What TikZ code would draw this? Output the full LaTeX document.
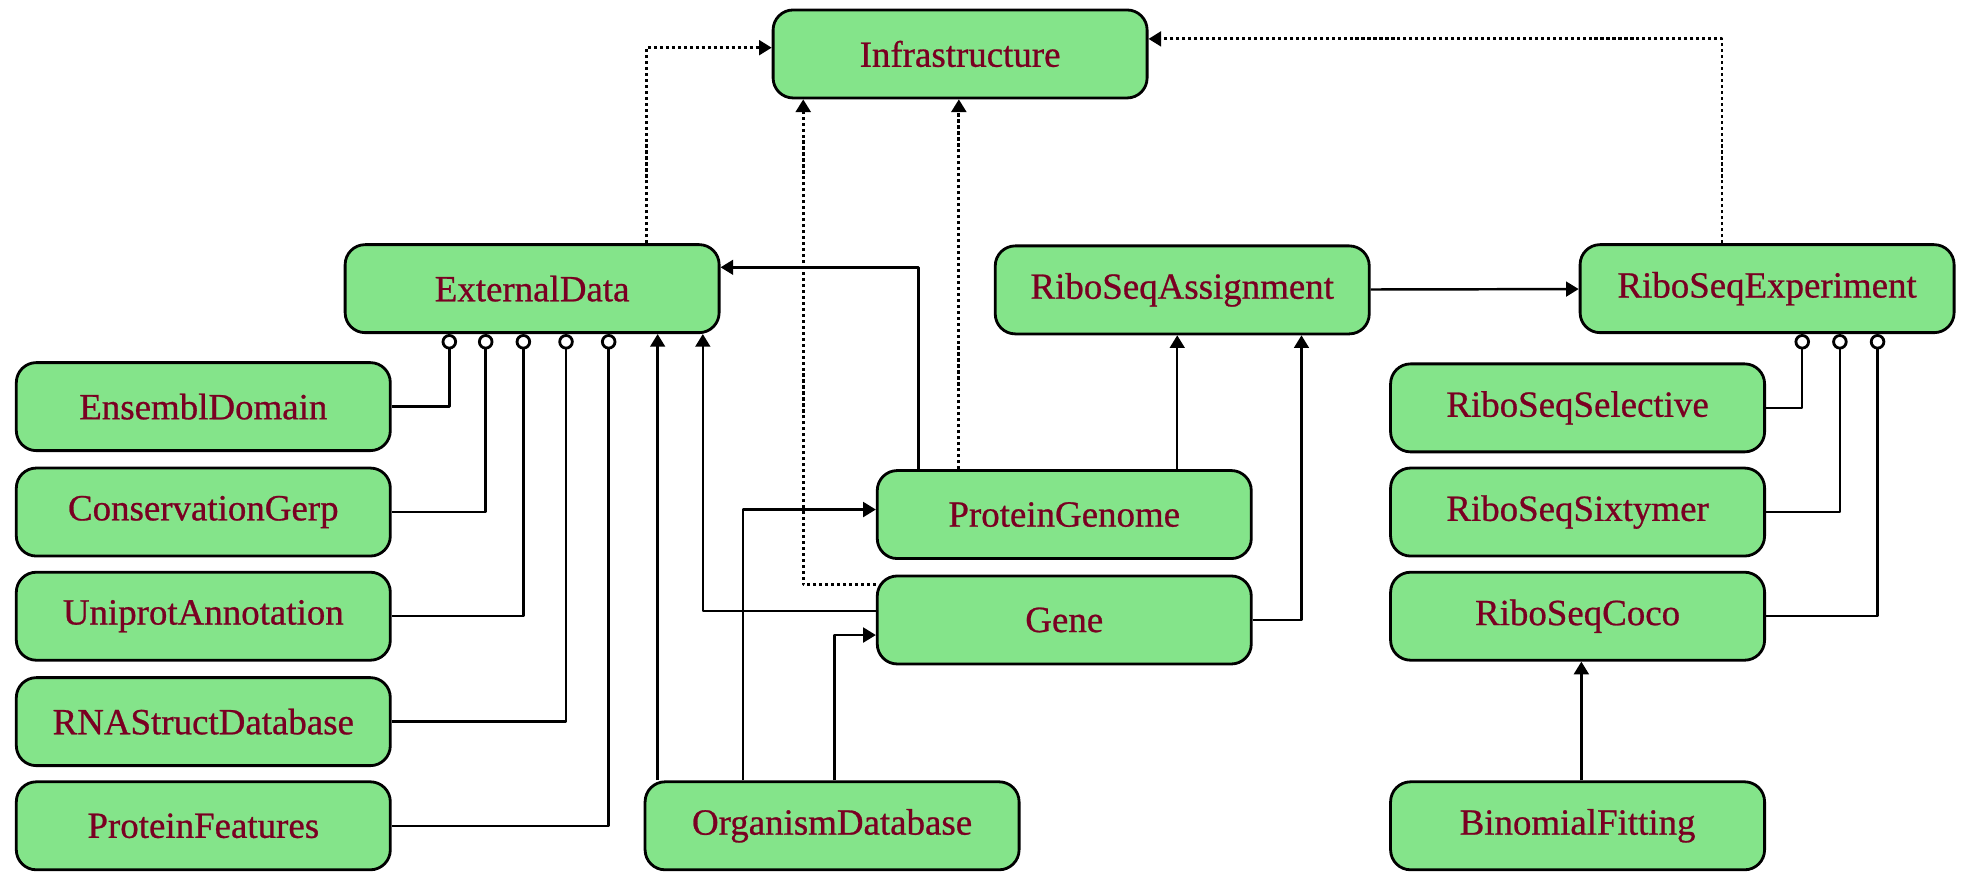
\documentclass[tikz,border=0pt]{standalone}
\usepackage{fontspec}
\setmainfont{Liberation Serif}
\newfontfamily\namefont[FakeBold=0.7]{Liberation Serif}
\usetikzlibrary{arrows.meta}
\definecolor{boxgreen}{RGB}{132,228,138}
\definecolor{namered}{RGB}{122,0,34}
\tikzset{
  cls/.style={draw, line width=0.8pt, fill=boxgreen, rounded corners=2mm,
    minimum width=3.74cm, minimum height=0.88cm, inner sep=0pt,
    text=namered, font=\namefont\fontsize{10.5}{12}\selectfont},
  uses/.style={line width=0.7pt, -{Triangle[length=3.6pt,width=4.2pt]}},
  deps/.style={line width=0.8pt, dash pattern=on 0.9pt off 0.8pt, -{Triangle[length=3.6pt,width=4.2pt]}},
  part/.style={line width=0.7pt, -{Circle[open,length=4.4pt,width=4.4pt,line width=0.8pt]}}
}
\begin{document}
\begin{tikzpicture}[x=0.1255mm, y=-0.1255mm, line join=round]
  \useasboundingbox (0,0) rectangle (1568.1,701.2);
  % classes
  \node[cls] (infra)  at (765,43)  {Infrastructure};
  \node[cls] (ext)    at (424,230) {ExternalData};
  \node[cls] (assign) at (942,231) {RiboSeqAssignment};
  \node[cls] (exper)  at (1408,230) {RiboSeqExperiment};
  \foreach \n/\t/\y in {ensembl/EnsemblDomain/324, gerp/ConservationGerp/408,
      uniprot/UniprotAnnotation/491, rnastruct/RNAStructDatabase/575, pfeat/ProteinFeatures/658}
    \node[cls] (\n) at (162,\y) {\t};
  \foreach \n/\t/\y in {selective/RiboSeqSelective/325, sixtymer/RiboSeqSixtymer/408, coco/RiboSeqCoco/491}
    \node[cls] (\n) at (1257,\y) {\t};
  \node[cls] (pgenome) at (848,410) {ProteinGenome};
  \node[cls] (gene)    at (848,494) {Gene};
  \node[cls] (orgdb)   at (663,658) {OrganismDatabase};
  \node[cls] (binom)   at (1257,658) {BinomialFitting};
  % dotted links to Infrastructure
  \draw[deps] (ext.north -| 515,0) |- (infra.west |- 0,38);
  \draw[deps] (exper.north -| 1372,0) |- (infra.east |- 0,31);
  \draw[deps] (pgenome.north -| 764,0) -- (infra.south -| 764,0);
  \draw[deps] (gene.west |- 0,466) -| (infra.south -| 640,0);
  % parts
  \foreach \n/\x in {ensembl/358, gerp/387, uniprot/417, rnastruct/451, pfeat/485}
    \draw[part] (\n.east) -| (ext.south -| \x,0);
  \foreach \n/\x in {selective/1436, sixtymer/1466, coco/1496}
    \draw[part] (\n.east) -| (exper.south -| \x,0);
  % solid links
  \draw[uses] (pgenome.north -| 732,0) |- (ext.east |- 0,213);
  \draw[uses] (gene.west |- 0,487) -| (ext.south -| 560,0);
  \draw[uses] (orgdb.north -| 524,0) -- (ext.south -| 524,0);
  \draw[uses] (orgdb.north -| 592,0) |- (pgenome.west |- 0,406);
  \draw[uses] (orgdb.north -| 665,0) |- (gene.west |- 0,506);
  \draw[uses] (pgenome.north -| 938,0) -- (assign.south -| 938,0);
  \draw[uses] (gene.east) -| (assign.south -| 1037,0);
  \draw[uses] (assign) -- (exper);
  \draw[uses] (binom.north -| 1260,0) -- (coco.south -| 1260,0);
\end{tikzpicture}
\end{document}
